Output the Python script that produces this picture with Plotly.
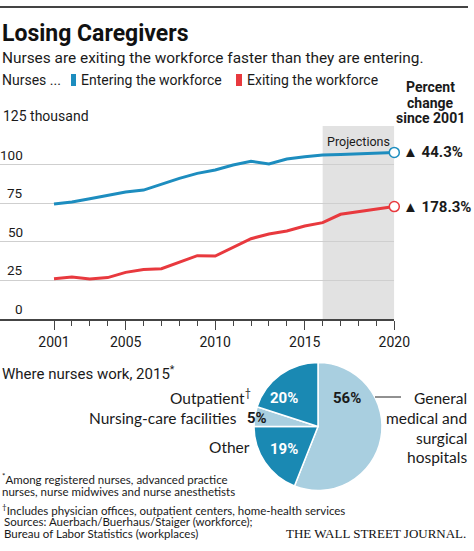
import plotly.graph_objects as go

# ---------------- data ----------------
years = list(range(2001, 2021))
entering = [74.5, 75.8, 77.9, 79.9, 82.3, 83.5, 87.4, 91.1, 94.3, 96.5,
            99.7, 102.1, 100.4, 103.6, 105.1, 106.2, 106.6, 107.1, 107.5, 107.9]
exiting = [26.1, 27.2, 25.9, 26.8, 30.2, 32.0, 32.6, 36.7, 41.0, 40.8,
           46.2, 52.0, 55.1, 57.0, 60.2, 62.4, 67.8, 69.5, 71.0, 72.8]
series_names = ["Entering the workforce", "Exiting the workforce"]
pct_change = ["44.3%", "178.3%"]
y_ticks = [0, 25, 50, 75, 100, 125]
x_major_ticks = [2001, 2005, 2010, 2015, 2020]
projection_start = 2016

pie_labels = ["General medical and surgical hospitals", "Other",
              "Nursing-care facilities", "Outpatient"]
pie_values = [56, 19, 5, 20]

# ---------------- styles ----------------
W, H = 474, 551
FONT = "Roboto, 'Liberation Sans', sans-serif"
NARROW = "Lato, Roboto, sans-serif"
BLUE = "#1d8dbf"
RED = "#e8393e"
DARK_PIE = "#1a89b3"
LIGHT_PIE = "#a9cfe0"
TXT = "#1a1a1a"


def px(x):
    return x / W


def py(y):
    return 1 - y / H


X_LEFT_PX, X2001_PX, X2020_PX = 0, 54, 394.3
per_year = (X2020_PX - X2001_PX) / (2020 - 2001)
x_range_left = 2001 - (X2001_PX - X_LEFT_PX) / per_year

fig = go.Figure()

colors = [BLUE, RED]
for name, vals, c in zip(series_names, [entering, exiting], colors):
    fig.add_trace(go.Scatter(x=years, y=vals, mode="lines", name=name,
                             line=dict(color=c, width=3), showlegend=False,
                             hoverinfo="x+y"))
    fig.add_trace(go.Scatter(x=[years[-1]], y=[vals[-1]], mode="markers",
                             marker=dict(symbol="circle", size=10, color="white",
                                         line=dict(color=c, width=1.5)),
                             cliponaxis=False, showlegend=False, hoverinfo="skip"))

fig.add_trace(go.Pie(values=pie_values, labels=pie_labels, sort=False,
                     direction="clockwise", rotation=0,
                     marker=dict(colors=[LIGHT_PIE, DARK_PIE, LIGHT_PIE, DARK_PIE],
                                 line=dict(color="white", width=1.5)),
                     textinfo="none", showlegend=False,
                     domain=dict(x=[px(254), px(382)], y=[60.3 / H, 188.7 / H])))

# projection shading
fig.add_shape(type="rect", xref="x", yref="y", x0=projection_start, x1=years[-1],
              y0=0, y1=y_ticks[-1], fillcolor="#e2e2e2", line_width=0, layer="below")

annotations = []


def note(x, y, text, size, xanchor="left", color=TXT, family=None, align="left",
         xref="paper", yref="paper", yanchor="middle"):
    f = dict(size=size, color=color)
    if family:
        f["family"] = family
    annotations.append(dict(x=x, y=y, xref=xref, yref=yref, xanchor=xanchor,
                            yanchor=yanchor, showarrow=False, text=text,
                            align=align, font=f))


# y labels
for v in y_ticks:
    if v == y_ticks[-1]:
        note(px(1), v, f"{v} thousand", 14, yref="y", yanchor="bottom")
    else:
        note(px(24.5), v, str(v), 13.5, xanchor="right", yref="y", yanchor="bottom")

note((projection_start + years[-1]) / 2, 115, "Projections", 12.5, xanchor="center",
     xref="x", yref="y")

# end labels
for vals, lab in zip([entering, exiting], pct_change):
    note(px(401), vals[-1], f"<b>▲ {lab}</b>", 15, yref="y")

for yy, line in zip([87, 103, 118.5], ["Percent", "change", "since 2001"]):
    note(px(430), py(yy), f"<b>{line}</b>", 14, xanchor="center", align="center")

# title block
note(0, py(34), "<b>Losing Caregivers</b>", 23, color="#111")
note(0, py(58), "Nurses are exiting the workforce faster than they are entering.", 15.4)
note(0, py(80), "Nurses ...", 14)
note(px(79), py(80), series_names[0], 14)
note(px(245), py(80), series_names[1], 14)

fig.add_shape(type="rect", xref="paper", yref="paper", x0=px(71), x1=px(76),
              y0=py(86), y1=py(74), fillcolor=BLUE, line_width=0)
fig.add_shape(type="rect", xref="paper", yref="paper", x0=px(236), x1=px(242),
              y0=py(86), y1=py(74), fillcolor=RED, line_width=0)
# top rule
fig.add_shape(type="line", xref="paper", yref="paper", x0=0, x1=px(468),
              y0=py(7), y1=py(7), line=dict(color="#444", width=2))

# pie section
note(0, py(373), "Where nurses work, 2015<sup>*</sup>", 15)
pie_pct_pos = [(347, 398), (283.5, 449), (257, 418), (284, 398)]
pie_pct_col = [TXT, "white", TXT, "white"]
for v, (xx, yy), c in zip(pie_values, pie_pct_pos, pie_pct_col):
    note(px(xx), py(yy), f"<b>{v}%</b>", 15, xanchor="center", color=c)

for yy, line in zip([398, 418, 437.5, 456.5],
                    ["General", "medical and", "surgical", "hospitals"]):
    note(px(469), py(yy), line, 15.5, xanchor="right", family=NARROW)
note(px(253), py(396), "Outpatient<sup>†</sup>", 15.5, xanchor="right", family=NARROW)
note(px(239), py(418), "Nursing-care facilities", 15.5, xanchor="right", family=NARROW)
note(px(252), py(447), "Other", 15.5, xanchor="right", family=NARROW)
fig.add_shape(type="line", xref="paper", yref="paper", x0=px(375), x1=px(401),
              y0=py(397), y1=py(397), line=dict(color="#222", width=1))

# footnotes
foot_lines = [
    (478.3, "<sup>*</sup>Among registered nurses, advanced practice", 0),
    (491.7, "nurses, nurse midwives and nurse anesthetists", 0),
    (509.3, "<sup>†</sup>Includes physician offices, outpatient centers, home-health services", 0),
    (521.7, "Sources: Auerbach/Buerhaus/Staiger (workforce);", 2),
    (533.3, "Bureau of Labor Statistics (workplaces)", 2),
]
for yy, line, xx in foot_lines:
    note(px(xx), py(yy), line, 11.5, family=NARROW)
note(px(468), py(533), "THE WALL STREET JOURNAL.", 13, xanchor="right", color="#111",
     family="'Liberation Serif', serif")

fig.update_layout(
    width=W, height=H, autosize=False,
    margin=dict(l=0, r=0, t=0, b=0, pad=0),
    paper_bgcolor="white", plot_bgcolor="white",
    font=dict(family=FONT, color=TXT),
    annotations=annotations,
    xaxis=dict(domain=[0, px(X2020_PX)], range=[x_range_left, 2020],
               tickmode="array", tickvals=x_major_ticks,
               ticktext=[str(t) for t in x_major_ticks],
               ticks="outside", ticklen=9, tickwidth=1.2, tickcolor="#444",
               minor=dict(tickmode="array", tickvals=years, ticks="outside",
                          ticklen=5, tickwidth=1, tickcolor="#444", showgrid=False),
               showgrid=False, zeroline=False, showline=True, linecolor="#444",
               linewidth=1.5, tickfont=dict(size=14, color=TXT), fixedrange=True,
               automargin=False),
    yaxis=dict(domain=[py(319), py(126)], range=[0, 125], tickmode="array",
               tickvals=y_ticks, showticklabels=False, showgrid=True,
               gridcolor="#cfcfcf", gridwidth=1, zeroline=False, ticks="",
               fixedrange=True, automargin=False),
    hovermode="closest",
)

fig.write_html("out.html", config={"responsive": False, "displayModeBar": False},
               post_script="document.body.style.margin='0';document.body.style.overflow='hidden';")
